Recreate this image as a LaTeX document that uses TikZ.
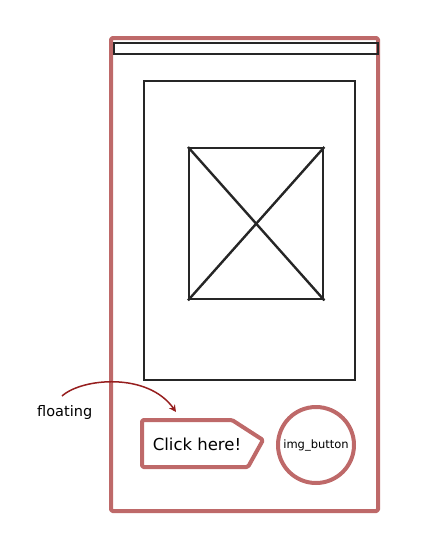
\documentclass[tikz,border=0pt]{standalone}
\usepackage{fontspec}
\setmainfont{DejaVu Sans}
\usetikzlibrary{arrows.meta}
\definecolor{frame}{RGB}{190,105,105}
\definecolor{arrowred}{RGB}{150,30,30}
\tikzset{
  redline/.style={draw=frame, line width=4pt, line join=round, rounded corners=1.5pt},
  blackline/.style={draw=black!85, line width=2.4pt},
  lbl/.style={inner sep=0pt, font=\fontsize{#1}{#1}\selectfont},
}
\begin{document}
\begin{tikzpicture}[x=1pt,y=-1pt]
\useasboundingbox (0,0) rectangle (434,547);
% phone frame
\draw[redline] (111,38) rectangle (378,511);
\node[blackline, draw, inner sep=0pt, minimum width=264pt, minimum height=11pt, anchor=north west] (bar) at (113,42) {};
% image area
\node[blackline, draw, inner sep=0pt, minimum width=211pt, minimum height=299pt, anchor=north west] (panel) at (143,80) {};
\node[blackline, draw, inner sep=0pt, minimum width=134pt, minimum height=151pt, anchor=north west] (img) at (188,147) {};
\draw[blackline] (img.north west) -- (img.south east);
\draw[blackline] (img.north east) -- (img.south west);
% button
\draw[redline] (142,420) coordinate (b1) -- (232,420) coordinate (b2) -- (263,440) coordinate (tip) -- (248,467) coordinate (b4) -- (142,467) coordinate (b5) -- cycle;
\node[lbl=16.5] (click) at (197,444) {Click here!};
% circle button
\node[draw=frame, line width=4pt, circle, minimum size=76pt, inner sep=0pt] (circ) at (316,445) {};
\node[lbl=11.5] (imgbtn) at (circ.center) {img\_button};
% floating annotation
\node[lbl=14.5, anchor=west] (float) at (37,412) {floating};
\coordinate (start) at (62,396);
\coordinate (end) at (176,412);
\draw[arrowred, line width=1.5pt, -{Stealth[length=7pt,width=7pt]}] (start) .. controls (82,378) and (148,372) .. (end);
\end{tikzpicture}
\end{document}
